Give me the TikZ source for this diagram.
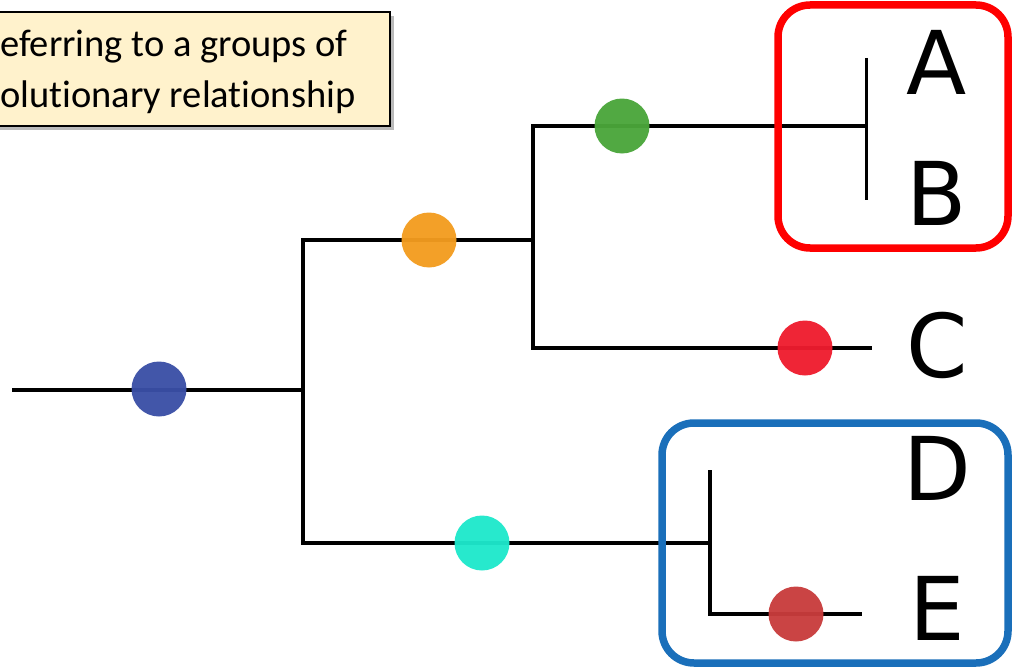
\documentclass[tikz,border=0pt]{standalone}
\usepackage{fontspec}
\setmainfont{DejaVu Sans}
\newfontfamily\notefont[Ligatures=NoCommon]{Carlito}
\usetikzlibrary{shadows}

\definecolor{dotblue}{HTML}{3A4FA6}
\definecolor{dotorange}{HTML}{F39C1F}
\definecolor{dotgreen}{HTML}{4AA63A}
\definecolor{dotred}{HTML}{EE1C2E}
\definecolor{dotcyan}{HTML}{1EE8CB}
\definecolor{dotbrick}{HTML}{C83C3C}
\definecolor{boxred}{HTML}{FF0000}
\definecolor{boxblue}{HTML}{1A6FBA}
\definecolor{notefill}{HTML}{FFF2CC}

\begin{document}
\begin{tikzpicture}[x=1pt,y=-1pt,
	branch/.style={line width=4.2pt},
	dot/.style={circle,minimum size=55pt,inner sep=0pt,fill opacity=0.96},
	taxon/.style={font=\fontsize{88}{88}\selectfont,inner sep=0pt},
	clade/.style={line width=7.5pt,rounded corners=32pt},
	notetext/.style={font=\notefont\fontsize{38.5}{38.5}\selectfont,inner sep=0pt,anchor=base west}]
	\useasboundingbox (0,0) rectangle (1012,669);
	\clip (0,0) rectangle (1012,669);
	% note box
	\draw[line width=1.6pt,fill=notefill,drop shadow={shadow xshift=4pt,shadow yshift=-4pt,fill=black!45,opacity=0.6}] (-20,12) rectangle (390,126);
	\node[notetext] (line1) at (0,57) {eferring to a groups of};
	\node[notetext] (line2) at (0,107) {olutionary relationship};
	% tree joints
	\coordinate (root) at (12,390);
	\coordinate (n1) at (303,390);
	\coordinate (n2) at (533,240);
	\coordinate (ab) at (866,126);
	\coordinate (abtop) at (866,58);
	\coordinate (abbot) at (866,200);
	\coordinate (cend) at (872,348);
	\coordinate (de) at (710,543);
	\coordinate (detop) at (710,470);
	\coordinate (eend) at (862,614);
	% branches
	\draw[branch] (root) -- (n1);
	\draw[branch] (n2) -| (n1) |- (de);
	\draw[branch] (ab) -| (n2) |- (cend);
	\draw[branch] (detop) |- (eend);
	\draw[line width=3pt] (abtop) -- (abbot);
	% dots on the branches
	\node[dot,fill=dotblue] (d1) at (159,389) {};
	\node[dot,fill=dotorange] (d2) at (429,240) {};
	\node[dot,fill=dotgreen] (d3) at (622,126) {};
	\node[dot,fill=dotred] (d4) at (805,348) {};
	\node[dot,fill=dotcyan] (d5) at (482,543) {};
	\node[dot,fill=dotbrick] (d6) at (796,614) {};
	% taxa
	\node[taxon] (A) at (937,62) {A};
	\node[taxon] (B) at (937,193) {B};
	\node[taxon] (C) at (937,345) {C};
	\node[taxon] (D) at (937,468) {D};
	\node[taxon] (E) at (937,608) {E};
	% clades
	\draw[clade,boxred] (778,5) rectangle (1008,248);
	\draw[clade,boxblue] (662,423) rectangle (1008,663);
\end{tikzpicture}
\end{document}
